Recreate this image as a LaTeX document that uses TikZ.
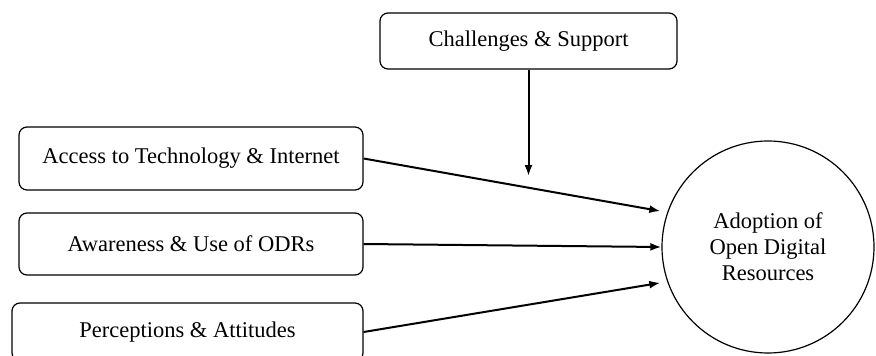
\documentclass[tikz,border=0pt]{standalone}
\usepackage{fontspec}
\setmainfont{Liberation Serif}
\usetikzlibrary{arrows.meta,positioning}
\tikzset{
  factorbox/.style={
    rectangle,
    rounded corners=8pt,
    draw=black,
    line width=1.2pt,
    align=center,
    inner sep=0pt,
    minimum width=344pt,
    minimum height=63pt,
    font=\fontsize{22.5}{26}\selectfont
  },
  topbox/.style={factorbox, minimum width=297pt, minimum height=56pt},
  outcomecircle/.style={
    circle,
    draw=black,
    line width=1.2pt,
    align=center,
    inner sep=0pt,
    minimum size=212pt,
    font=\fontsize{22.5}{26}\selectfont
  },
  flowarrow/.style={-{Latex[length=11pt,width=8pt]}, line width=2pt, draw=black}
}
\begin{document}
\begin{tikzpicture}[x=1pt,y=-1pt]
\useasboundingbox (0,0) rectangle (876,356);
\node[factorbox] (access) at (191,158.5) {Access to Technology \& Internet};
\node[factorbox, minimum height=62pt] (aware) at (191,244) {Awareness \& Use of ODRs};
\node[factorbox, minimum width=351pt, minimum height=58pt] (percep) at (187.5,332) {Perceptions \& Attitudes};
\node[topbox] (chall) at (528.5,41) {Challenges \& Support};
\node[outcomecircle] (adopt) at (768,247) {Adoption of\\Open Digital\\Resources};
\coordinate (challend) at (528.5,176);
\draw[flowarrow] (chall) -- (challend);
\draw[flowarrow, shorten >=7pt] (access.east) -- (adopt.161);
\draw[flowarrow] (aware.east) -- (adopt.west);
\draw[flowarrow, shorten >=7pt] (percep.east) -- (adopt.199);
\end{tikzpicture}
\end{document}
